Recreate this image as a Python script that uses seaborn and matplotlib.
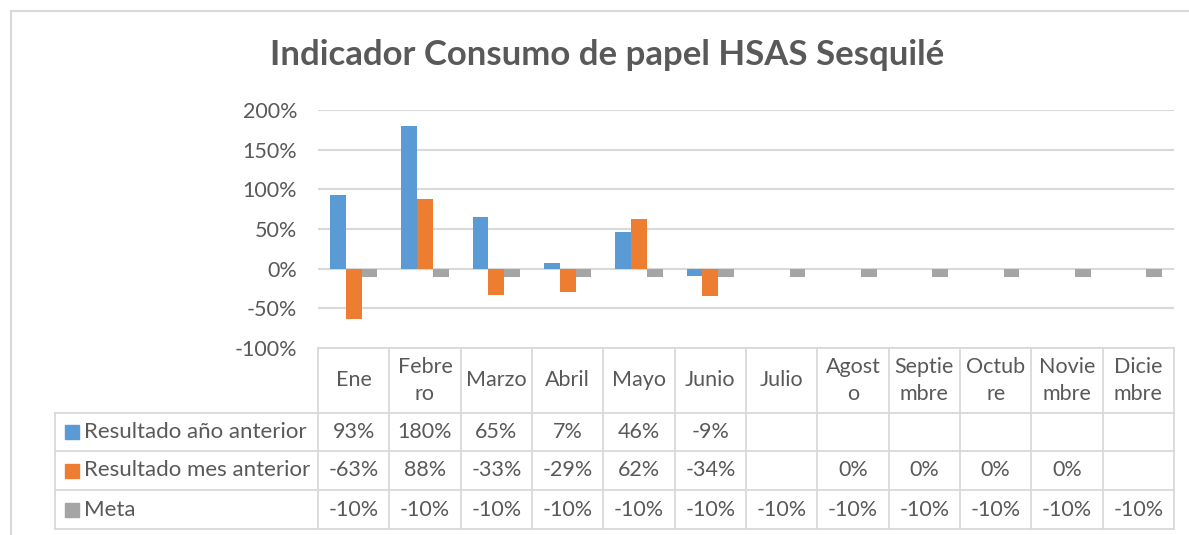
import numpy as np
import pandas as pd
import seaborn as sns
import matplotlib.pyplot as plt
from matplotlib.patches import Rectangle
from matplotlib.lines import Line2D
import matplotlib.transforms as mtransforms

# chart data (values in percent)
months = ["Ene", "Febrero", "Marzo", "Abril", "Mayo", "Junio", "Julio",
          "Agosto", "Septiembre", "Octubre", "Noviembre", "Diciembre"]
month_labels = ["Ene", "Febre\nro", "Marzo", "Abril", "Mayo", "Junio", "Julio",
                "Agost\no", "Septie\nmbre", "Octub\nre", "Novie\nmbre", "Dicie\nmbre"]
series = ["Resultado año anterior", "Resultado mes anterior", "Meta"]
res_anio = [93, 180, 65, 7, 46, -9, np.nan, np.nan, np.nan, np.nan, np.nan, np.nan]
res_mes = [-63, 88, -33, -29, 62, -34, np.nan, 0, 0, 0, 0, np.nan]
meta = [-10, -10, -10, -10, -10, -10, -10, -10, -10, -10, -10, -10]
y_ticks = [-100, -50, 0, 50, 100, 150, 200]

colors = ["#5B9BD5", "#ED7D31", "#A5A5A5"]
text_col = "#595959"
grid_col = "#D9D9D9"

df = pd.DataFrame({
    "mes": months * 3,
    "serie": [s for s in series for _ in months],
    "valor": res_anio + res_mes + meta,
})

plt.rcParams['font.family'] = ['Lato', 'DejaVu Sans']
fs = 15.5

W, H = 1189, 535
fig = plt.figure(figsize=(W / 100, H / 100), dpi=100)

def fx(x):
    return x / W

def fy(y):
    return 1 - y / H

# outer chart border (top and left edges are visible)
fig.lines.append(Line2D([fx(11), 1], [fy(11), fy(11)], transform=fig.transFigure,
                        color=grid_col, linewidth=1.5))
fig.lines.append(Line2D([fx(11), fx(11)], [fy(11), 0], transform=fig.transFigure,
                        color=grid_col, linewidth=1.5))

fig.text(fx(607), fy(55), "Indicador Consumo de papel HSAS Sesquilé",
         ha="center", va="center", fontsize=25, fontweight="bold", color=text_col)

left, right, top, bottom = 318, 1174, 110, 348
ax = fig.add_axes([fx(left), fy(bottom), fx(right) - fx(left), fy(top) - fy(bottom)])

sns.barplot(data=df, x="mes", y="valor", hue="serie", order=months,
            hue_order=series, palette=colors, width=0.66, ax=ax,
            legend=False, saturation=1, linewidth=0, errorbar=None)

ax.set_ylim(-100, 200)
ax.set_yticks(y_ticks)
ax.set_yticklabels([f"{t}%" for t in y_ticks], fontsize=fs, color=text_col)
ax.tick_params(axis="y", length=0, pad=15)
ax.tick_params(axis="x", length=0, labelbottom=False)
ax.set_xlabel("")
ax.set_ylabel("")
for s in ax.spines.values():
    s.set_visible(False)
ax.yaxis.grid(True, color=grid_col, linewidth=1.5)
ax.set_axisbelow(True)

# data table under the chart, columns follow the category axis
trans = mtransforms.blended_transform_factory(ax.transData, fig.transFigure)
rows_y = [348, 413, 451, 490, 529]
ncat = len(months)
xs = [i - 0.5 for i in range(ncat + 1)]
tab_left = 55

def hline(x0, x1, y, tr):
    fig.lines.append(Line2D([x0, x1], [fy(y), fy(y)], transform=tr,
                            color=grid_col, linewidth=1.3))

def vline(x, y0, y1, tr):
    fig.lines.append(Line2D([x, x], [fy(y0), fy(y1)], transform=tr,
                            color=grid_col, linewidth=1.3))

hline(xs[0], xs[-1], rows_y[0], trans)
for y in rows_y[1:]:
    hline(fx(tab_left), fx(left), y, fig.transFigure)
    hline(xs[0], xs[-1], y, trans)
for x in xs:
    vline(x, rows_y[0], rows_y[-1], trans)
vline(fx(tab_left), rows_y[1], rows_y[-1], fig.transFigure)

# header
for i, lab in enumerate(month_labels):
    fig.text(i, fy((rows_y[0] + rows_y[1]) / 2), lab, transform=trans,
             ha="center", va="center", fontsize=fs, color=text_col,
             linespacing=1.45)

# rows
for r, (name, vals, c) in enumerate(zip(series, [res_anio, res_mes, meta], colors)):
    yc = (rows_y[r + 1] + rows_y[r + 2]) / 2
    fig.patches.append(Rectangle((fx(65), fy(yc + 7)), fx(14), fy(0) - fy(14),
                                 transform=fig.transFigure, color=c))
    fig.text(fx(84), fy(yc), name, ha="left", va="center",
             fontsize=fs + 0.5, color=text_col)
    for i, v in enumerate(vals):
        if not np.isnan(v):
            fig.text(i, fy(yc), f"{v:.0f}%", transform=trans, ha="center",
                     va="center", fontsize=fs, color=text_col)

fig.savefig("out.png", dpi=100, facecolor="white")
